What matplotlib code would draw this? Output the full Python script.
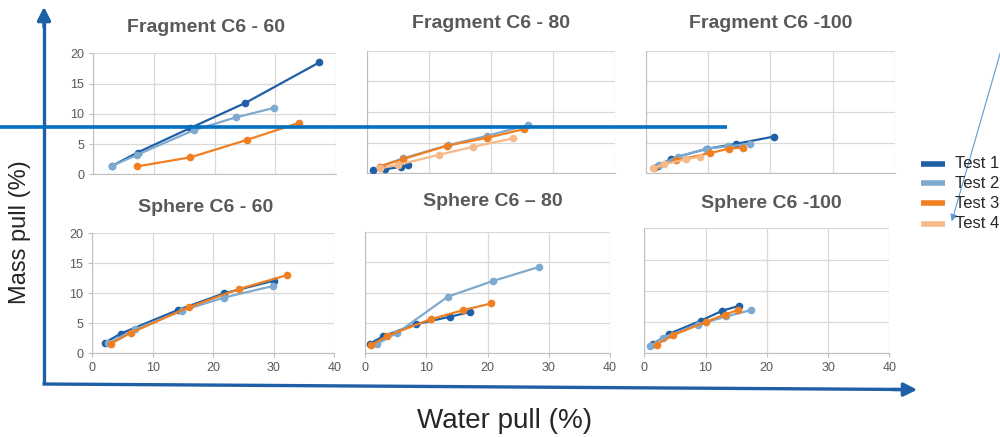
import matplotlib
matplotlib.use("Agg")
import matplotlib.pyplot as plt

plt.rcParams['font.family'] = ['Liberation Sans', 'DejaVu Sans']

# ---------------- data ----------------
test_names = ["Test 1", "Test 2", "Test 3", "Test 4"]
test_colors = ["#1F5FA6", "#7FAACF", "#F07F22", "#F7B98A"]

panel_titles = ["Fragment C6 - 60", "Fragment C6 - 80", "Fragment C6 -100",
                "Sphere C6 - 60", "Sphere C6 \u2013 80", "Sphere C6 -100"]

# water pull (x) and mass pull (y) per test, None where the test is absent
frag60_water = [[3.1, 7.3, 15.9, 25.1, 37.3], [3.1, 7.2, 16.6, 23.5, 29.9], [7.2, 16.0, 25.4, 33.9], None]
frag60_mass = [[1.4, 3.6, 7.6, 11.8, 18.5], [1.4, 3.2, 7.3, 9.4, 11.0], [1.3, 2.8, 5.7, 8.5], None]

frag80_water = [[1.0, 2.85, 5.4, 6.6], [2.0, 5.8, 13.1, 19.3, 26.0], [2.0, 5.7, 12.9, 19.4, 25.3], [2.0, 5.0, 11.5, 17.0, 23.5]]
frag80_mass = [[0.5, 0.7, 1.0, 1.3], [1.1, 2.45, 4.6, 6.1, 7.9], [1.1, 2.3, 4.5, 5.8, 7.2], [0.8, 1.4, 3.0, 4.3, 5.7]]

frag100_water = [[2.0, 4.1, 9.8, 14.5, 20.6], [2.1, 5.2, 9.7, 13.2, 16.7], [1.4, 4.9, 10.3, 13.3, 15.6], [1.2, 3.0, 6.5, 8.7]]
frag100_mass = [[1.2, 2.4, 4.0, 4.8, 6.0], [1.4, 2.7, 4.0, 4.4, 4.8], [0.9, 2.1, 3.3, 4.0, 4.2], [0.8, 1.5, 2.3, 2.7]]

sphere60_water = [[2.1, 4.75, 14.1, 21.8, 30.0], [2.65, 7.1, 14.8, 21.8, 29.8], [3.1, 6.35, 16.0, 24.2, 32.1], None]
sphere60_mass = [[1.8, 3.3, 7.2, 10.0, 12.1], [1.7, 4.0, 7.1, 9.3, 11.2], [1.6, 3.4, 7.7, 10.7, 13.0], None]

sphere80_water = [[0.8, 3.0, 8.4, 13.8, 17.2], [1.9, 5.3, 13.5, 20.9, 28.4], [1.0, 3.6, 10.7, 16.05, 20.6], None]
sphere80_mass = [[1.6, 2.8, 4.8, 6.0, 6.8], [1.5, 3.4, 9.3, 11.9, 14.2], [1.3, 2.85, 5.6, 7.1, 8.2], None]

sphere100_water = [[1.4, 4.0, 9.2, 12.7, 15.5], [1.0, 3.0, 8.8, 13.4, 17.4], [2.0, 4.7, 10.0, 13.1, 15.3], None]
sphere100_mass = [[1.5, 3.1, 5.2, 6.8, 7.6], [1.2, 2.5, 4.6, 5.9, 6.9], [1.4, 2.9, 5.0, 6.2, 6.9], None]

x_ticks = [0, 10, 20, 30, 40]
y_ticks = [0, 5, 10, 15, 20]

panels_water = [frag60_water, frag80_water, frag100_water, sphere60_water, sphere80_water, sphere100_water]
panels_mass = [frag60_mass, frag80_mass, frag100_mass, sphere60_mass, sphere80_mass, sphere100_mass]

# ---------------- layout (pixel boxes: left, right, top, bottom) ----------------
W, H = 1000, 437
boxes = [(93.3, 335.7, 53.3, 174.3), (367.3, 615, 50.7, 173.3), (645.7, 895, 50.7, 173.3),
         (92.3, 334.3, 233.3, 353.3), (365, 610, 231.7, 353.3), (644.3, 889.3, 228.3, 353.3)]
title_pos = [(206, 27), (491, 24), (771, 24), (206, 208), (493, 201), (771, 204)]

fig = plt.figure(figsize=(10, 4.37), dpi=100)
grid_c = "#D9D9D9"
text_c = "#595959"

for i, (l, r, t, b) in enumerate(boxes):
    ax = fig.add_axes([l / W, (H - b) / H, (r - l) / W, (b - t) / H])
    for k in range(4):
        xs = panels_water[i][k]
        ys = panels_mass[i][k]
        if xs is None:
            continue
        ax.plot(xs, ys, color=test_colors[k], lw=1.6, marker='o', ms=4.5, zorder=3)
    ax.set_xlim(0, 40)
    ax.set_ylim(0, 20)
    ax.set_xticks(x_ticks)
    ax.set_yticks(y_ticks)
    ax.grid(True, color=grid_c, lw=0.9)
    ax.set_axisbelow(True)
    for s in ['top', 'right']:
        ax.spines[s].set_visible(False)
    ax.spines['left'].set_color("#BFBFBF")
    ax.spines['bottom'].set_color("#BFBFBF")
    ax.tick_params(colors="#BFBFBF", labelcolor=text_c, labelsize=9, length=3, width=0.8)
    if i in (0, 3):
        ax.tick_params(axis='y', labelleft=True)
    else:
        ax.tick_params(axis='y', labelleft=False, length=0)
    if i < 3:
        ax.tick_params(axis='x', labelbottom=False, length=0)

# overlay for annotations in pixel coordinates
ov = fig.add_axes([0, 0, 1, 1], zorder=10)
ov.set_xlim(0, W)
ov.set_ylim(H, 0)
ov.axis('off')
ov.patch.set_alpha(0)

for (tx, ty), title in zip(title_pos, panel_titles):
    ov.text(tx, ty, title, ha='center', va='center', fontsize=14, fontweight='bold', color=text_c)

# big axis arrows
arrow_c = "#1F5FA6"
ov.plot([44, 44], [384, 20], color=arrow_c, lw=2.4, solid_capstyle='butt')
ov.annotate("", xy=(44, 4), xytext=(44, 30),
            arrowprops=dict(arrowstyle="-|>", color=arrow_c, lw=2.4, mutation_scale=20))
ov.plot([42.5, 905], [384, 389.5], color=arrow_c, lw=2.4, solid_capstyle='butt')
ov.annotate("", xy=(920, 389.7), xytext=(890, 389.5),
            arrowprops=dict(arrowstyle="-|>", color=arrow_c, lw=2.4, mutation_scale=20))

# thick horizontal line
ov.plot([0, 727], [127, 127], color="#0070C0", lw=2.6, solid_capstyle='butt')

# thin pointer arrow
ov.annotate("", xy=(951, 224), xytext=(1004, 40),
            arrowprops=dict(arrowstyle="-|>", color="#5B9BD5", lw=0.8, mutation_scale=10))

# axis labels
ov.text(20, 232, "Mass pull (%)", rotation=90, ha='center', va='center', fontsize=17, color="#262626")
ov.text(505, 421, "Water pull (%)", ha='center', va='center', fontsize=20, color="#262626")

# legend
leg_y = [164, 183, 203, 224]
for k in range(4):
    ov.plot([920.7, 945], [leg_y[k], leg_y[k]], color=test_colors[k], lw=4, solid_capstyle='butt')
    ov.text(955, leg_y[k], test_names[k], ha='left', va='center', fontsize=12, color="#262626")

fig.savefig("out.png", dpi=100)
